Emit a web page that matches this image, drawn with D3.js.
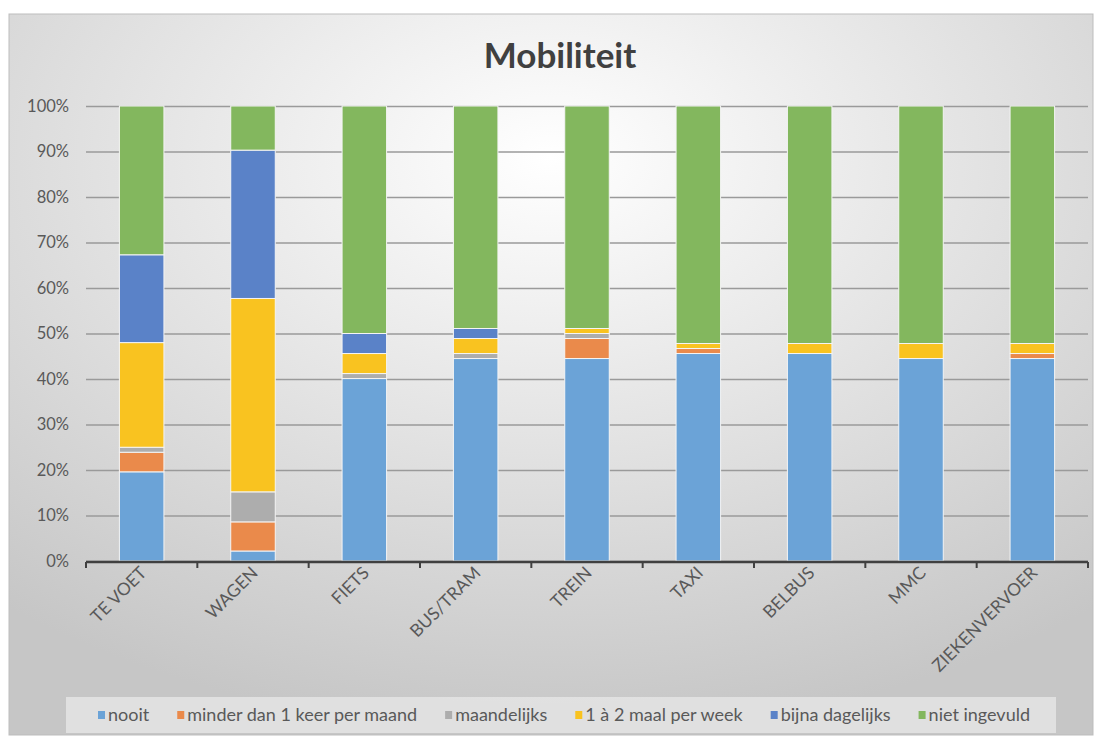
<!DOCTYPE html>
<html>
<head>
<meta charset="utf-8">
<script src="https://cdn.jsdelivr.net/npm/d3@7"></script>
<style>
  body { margin: 0; background: #fff; }
  svg text { font-family: Lato, "Open Sans", sans-serif; }
</style>
</head>
<body>
<svg id="chart" width="1099" height="738"></svg>
<script>
// categories and series (percentages)
const categories = ['TE VOET', 'WAGEN', 'FIETS', 'BUS/TRAM', 'TREIN', 'TAXI', 'BELBUS', 'MMC', 'ZIEKENVERVOER'];
const seriesNames = ['nooit', 'minder dan 1 keer per maand', 'maandelijks', '1 à 2 maal per week', 'bijna dagelijks', 'niet ingevuld'];
const nooit       = [19.6,  2.2, 40.1, 44.5, 44.5, 45.6, 45.6, 44.5, 44.5];
const minder      = [ 4.3,  6.4,  0.0,  0.0,  4.4,  1.1,  0.0,  0.0,  1.1];
const maandelijks = [ 1.1,  6.6,  1.1,  1.1,  1.1,  0.0,  0.0,  0.0,  0.0];
const perWeek     = [23.0, 42.5,  4.4,  3.3,  1.1,  1.1,  2.2,  3.3,  2.2];
const bijnaDag    = [19.3, 32.6,  4.4,  2.2,  0.0,  0.0,  0.0,  0.0,  0.0];
const nietIngev   = [32.7,  9.7, 50.0, 48.9, 48.9, 52.2, 52.2, 52.2, 52.2];
const yTicks = [0, 10, 20, 30, 40, 50, 60, 70, 80, 90, 100];
const colors = ['#6ba3d7', '#ea8a4b', '#adadad', '#f9c320', '#5a82c8', '#83b75e'];

const svg = d3.select('#chart');
const seriesVals = [nooit, minder, maandelijks, perWeek, bijnaDag, nietIngev];
const rows = categories.map((c, i) => {
  const r = { cat: c };
  seriesNames.forEach((s, k) => r[s] = seriesVals[k][i]);
  return r;
});

// chart area background
const defs = svg.append('defs');
const grad = defs.append('radialGradient').attr('id', 'bg')
  .attr('cx', '50%').attr('cy', '20%').attr('r', '80%');
grad.append('stop').attr('offset', '0%').attr('stop-color', '#ffffff');
grad.append('stop').attr('offset', '100%').attr('stop-color', '#c6c6c6');

svg.append('rect')
  .attr('x', 9).attr('y', 14).attr('width', 1084).attr('height', 721)
  .attr('fill', 'url(#bg)').attr('stroke', '#bdbdbd').attr('stroke-width', 1);

const margin = { left: 86, right: 11 };
const plotW = 1099 - margin.left - margin.right;
const x = d3.scaleBand().domain(categories).range([margin.left, margin.left + plotW]).paddingInner(0.6).paddingOuter(0.3);
const y = d3.scaleLinear().domain([0, 100]).range([561, 106]);

// title
svg.append('text')
  .attr('x', 560).attr('y', 68)
  .attr('text-anchor', 'middle')
  .attr('font-size', 35).attr('font-weight', 'bold').attr('fill', '#404040')
  .text('Mobiliteit');

// gridlines + y labels
svg.append('g')
  .attr('transform', `translate(${margin.left},0)`)
  .call(d3.axisLeft(y).tickValues(yTicks).tickSize(-plotW).tickFormat(d => d + '%'))
  .call(g => g.select('.domain').remove())
  .call(g => g.selectAll('.tick line').attr('stroke', '#9a9a9a').attr('stroke-width', 1.3))
  .call(g => g.selectAll('.tick text').attr('x', -17).attr('font-size', 16.5).attr('fill', '#595959'));

// stacked bars
const stack = d3.stack().keys(seriesNames)(rows);
svg.append('g').selectAll('g')
  .data(stack).join('g')
  .attr('fill', (d, i) => colors[i])
  .selectAll('rect')
  .data(d => d.filter(p => p[1] - p[0] > 0))
  .join('rect')
  .attr('x', d => x(d.data.cat))
  .attr('width', x.bandwidth())
  .attr('y', d => y(d[1]))
  .attr('height', d => y(d[0]) - y(d[1]))
  .attr('stroke', '#f4f4f4').attr('stroke-width', 1);

// x axis
const xTickScale = d3.scaleLinear().domain([0, categories.length]).range([margin.left, margin.left + plotW]);
const xAxis = svg.append('g');
xAxis.append('line')
  .attr('x1', margin.left).attr('x2', margin.left + plotW)
  .attr('y1', 562).attr('y2', 562)
  .attr('stroke', '#404040').attr('stroke-width', 2.5);
xAxis.selectAll('line.tk')
  .data(d3.range(categories.length + 1)).join('line')
  .attr('class', 'tk')
  .attr('x1', d => xTickScale(d)).attr('x2', d => xTickScale(d))
  .attr('y1', 562).attr('y2', 568)
  .attr('stroke', '#404040').attr('stroke-width', 2);
xAxis.selectAll('text')
  .data(categories).join('text')
  .attr('transform', d => `translate(${x(d) + x.bandwidth() / 2 + 6},574) rotate(-45)`)
  .attr('text-anchor', 'end')
  .attr('font-size', 17.5).attr('fill', '#595959')
  .text(d => d);

// legend
const legend = svg.append('g');
legend.append('rect')
  .attr('x', 66).attr('y', 697).attr('width', 990).attr('height', 36)
  .attr('fill', '#e6e6e6').attr('opacity', 0.8);
const items = legend.selectAll('g.item').data(seriesNames).join('g').attr('class', 'item');
items.append('rect').attr('width', 7).attr('height', 8).attr('y', -10).attr('fill', (d, i) => colors[i]);
items.append('text').attr('x', 10).attr('font-size', 18).attr('fill', '#595959').text(d => d);
const widths = [];
items.each(function () { widths.push(10 + this.querySelector('text').getComputedTextLength()); });
const gap = 28;
const total = d3.sum(widths) + gap * (widths.length - 1);
let cur = 564 - total / 2;
items.attr('transform', (d, i) => {
  const t = `translate(${cur},721)`;
  cur += widths[i] + gap;
  return t;
});
</script>
</body>
</html>
